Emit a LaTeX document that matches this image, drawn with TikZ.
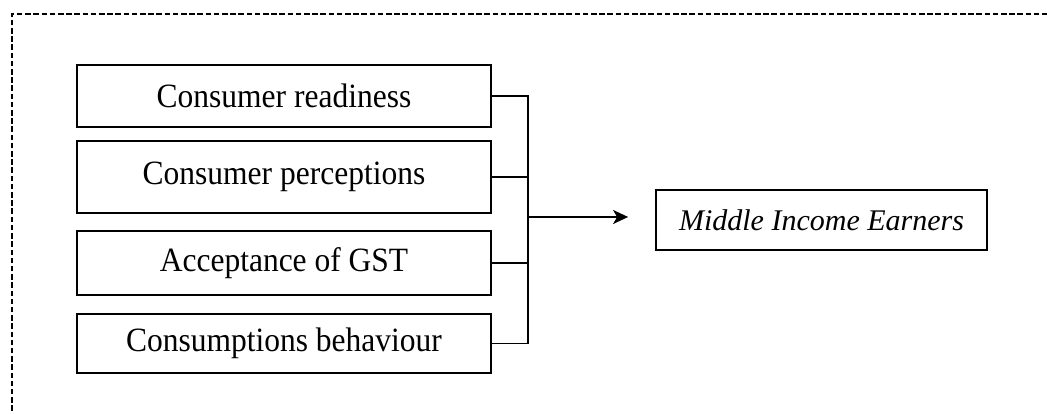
\documentclass[tikz,border=0pt]{standalone}
\usepackage{fontspec}
\setmainfont{Liberation Serif}
\usetikzlibrary{arrows.meta}
\tikzset{
  factorbox/.style={draw, line width=1.8pt, inner sep=0pt, minimum width=414pt,
    font=\fontsize{31.5}{36}\selectfont},
  outcomebox/.style={draw, line width=1.8pt, inner sep=0pt, minimum width=331pt,
    minimum height=60pt, font=\fontsize{30}{36}\selectfont\itshape},
  link/.style={line width=1.7pt},
  frame/.style={line width=1.4pt, dash pattern=on 5.5pt off 2.7pt}
}
\begin{document}
\begin{tikzpicture}[x=1pt,y=-1pt]
\clip (0,0) rectangle (1047,414);
\fill[white] (0,0) rectangle (1047,414);
\draw[frame] (12,460) -- (12,14) -- (1080,14);
\node[factorbox, minimum height=62pt] (b1) at (284,96) {\scalebox{1}[1.08]{Consumer readiness}};
\node[factorbox, minimum height=72pt] (b2) at (284,177) {\raisebox{4pt}{\scalebox{1}[1.08]{Consumer perceptions}}};
\node[factorbox, minimum height=64pt] (b3) at (284,263) {\scalebox{1}[1.08]{Acceptance of GST}};
\node[factorbox, minimum height=59pt] (b4) at (284,343.5) {\scalebox{1}[1.08]{Consumptions behaviour}};
\node[outcomebox] (mie) at (821.5,220) {Middle Income Earners};
\coordinate (bus) at (528,0);
\coordinate (j) at (528,217);
\draw[link] (b1.east) -- (b1.east -| bus) -- (b4.east -| bus) -- (b4.east);
\draw[link] (b2.east) -- (b2.east -| bus);
\draw[link] (b3.east) -- (b3.east -| bus);
\draw[link, -{Stealth[length=15pt, width=14pt, inset=4pt]}] (j) -- ([xshift=-27pt]mie.west |- j);
\end{tikzpicture}
\end{document}
